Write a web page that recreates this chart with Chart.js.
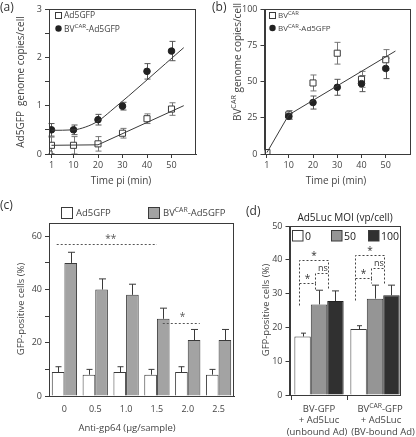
<!DOCTYPE html>
<html>
<head>
<meta charset="utf-8">
<script src="https://cdn.jsdelivr.net/npm/chart.js@4.4.1/dist/chart.umd.min.js"></script>
<style>
  html, body { margin: 0; padding: 0; background: #fff; }
  #wrap { position: relative; width: 416px; height: 437px; }
  #wrap canvas { position: absolute; left: 0; top: 0; }
</style>
</head>
<body>
<div id="wrap">
  <canvas id="chartA" width="416" height="437"></canvas>
  <canvas id="chartB" width="416" height="437"></canvas>
  <canvas id="chartC" width="416" height="437"></canvas>
  <canvas id="chartD" width="416" height="437"></canvas>
</div>
<script>
// --- dados do painel (a): cópias do genoma Ad5GFP por célula
const timeTicks = [1, 10, 20, 30, 40, 50];
const aTimeAd = [0, 1, 10, 20, 30, 40, 50];
const aAdGfp = [0, 0.18, 0.18, 0.21, 0.43, 0.73, 0.93];
const aAdGfpErr = [0, 0.17, 0.18, 0.15, 0.1, 0.1, 0.13];
const aTimeBv = [1, 10, 20, 30, 40, 50];
const aBvAd = [0.5, 0.5, 0.71, 0.99, 1.71, 2.13];
const aBvAdErr = [0.13, 0.1, 0.11, 0.08, 0.16, 0.2];
// linhas de ajuste
const aFitAdX = [1, 20, 55];
const aFitAdY = [0.18, 0.19, 1.0];
const aFitBvX = [1, 10, 15, 20, 25, 55];
const aFitBvY = [0.49, 0.5, 0.56, 0.68, 0.88, 2.2];

// --- painel (b): cópias do genoma BV-CAR por célula
const bTimeBv = [0, 1, 10, 20, 30, 40, 50];
const bBv = [0, 1, 27, 49, 69.5, 51.5, 65];
const bBvErr = [0, 0, 3, 5.5, 7.5, 5.5, 7];
const bTimeBvAd = [10, 20, 30, 40, 50];
const bBvAd = [26, 35.5, 46, 48.5, 59];
const bBvAdErr = [2, 4.5, 5.5, 5.5, 7];
const bFitX = [1, 10, 54];
const bFitY = [1, 27, 71];

// --- painel (c): células GFP-positivas vs anti-gp64
const cDoses = ['0', '0.5', '1.0', '1.5', '2.0', '2.5'];
const cAd = [9, 8, 9, 8, 9, 8];
const cAdErr = [2, 2, 2, 2, 2, 2];
const cBvAd = [50, 40, 38, 29, 21, 21];
const cBvAdErr = [4, 4, 4, 4, 4, 4];

// --- painel (d): MOI de Ad5Luc
const dMoiLabels = ['0', '50', '100'];
const dMoi0 = [17.3, 19.5];
const dMoi0Err = [1, 1];
const dMoi50 = [26.8, 28.5];
const dMoi50Err = [4.2, 4];
const dMoi100 = [27.8, 29.5];
const dMoi100Err = [3, 3];

const FONT = '"Open Sans", "Noto Sans", sans-serif';
const INK = '#3a3a3a';
const TXT = '#444';

Chart.defaults.font.family = FONT;
Chart.defaults.color = TXT;
Chart.defaults.animation = false;
Chart.defaults.responsive = false;
Chart.defaults.plugins.legend.display = false;
Chart.defaults.plugins.tooltip.enabled = false;

const tickFont = { size: 9 };
const axisGrid = { drawOnChartArea: false, drawTicks: true, tickLength: 4, color: INK, lineWidth: 1 };
const axisBorder = { display: true, color: INK, width: 1 };

// Texto com partes sobrescritas: parts = [[texto, sobrescrito?], ...]
function drawRich(ctx, parts, x, y, size, align) {
    const supSize = size * 0.72;
    let total = 0;
    parts.forEach(([t, sup]) => {
        ctx.font = `${sup ? supSize : size}px ${FONT}`;
        total += ctx.measureText(t).width;
    });
    let cx = align === 'center' ? x - total / 2 : (align === 'right' ? x - total : x);
    ctx.textAlign = 'left';
    ctx.textBaseline = 'alphabetic';
    const base = y + size * 0.36;
    parts.forEach(([t, sup]) => {
        ctx.font = `${sup ? supSize : size}px ${FONT}`;
        ctx.fillText(t, cx, sup ? base - size * 0.42 : base);
        cx += ctx.measureText(t).width;
    });
}

function drawRotated(ctx, parts, x, y, size) {
    ctx.save();
    ctx.translate(x, y);
    ctx.rotate(-Math.PI / 2);
    drawRich(ctx, parts, 0, 0, size, 'center');
    ctx.restore();
}

function drawFrame(chart) {
    const { ctx, chartArea: a } = chart;
    ctx.save();
    ctx.strokeStyle = INK;
    ctx.lineWidth = 1;
    ctx.strokeRect(Math.round(a.left) + 0.5, Math.round(a.top) + 0.5,
        Math.round(a.right - a.left) - 1, Math.round(a.bottom - a.top));
    ctx.restore();
}

// Barras de erro: simétricas para pontos, só para cima nas barras
const errorBarPlugin = {
    id: 'errorBars',
    beforeDatasetsDraw(chart) {
        const ctx = chart.ctx;
        const yScale = chart.scales.y;
        chart.data.datasets.forEach((ds, i) => {
            if (!ds.errorBars) return;
            const meta = chart.getDatasetMeta(i);
            const isBar = meta.type === 'bar';
            ctx.save();
            ctx.strokeStyle = ds.errorColor || '#555';
            ctx.lineWidth = 1;
            meta.data.forEach((el, j) => {
                const raw = ds.data[j];
                const v = typeof raw === 'object' ? raw.y : raw;
                const e = ds.errorBars[j];
                if (!e) return;
                const x = Math.round(el.x) + 0.5;
                const top = yScale.getPixelForValue(v + e);
                const bottom = isBar ? yScale.getPixelForValue(v) : yScale.getPixelForValue(v - e);
                const cap = ds.capWidth || 3;
                ctx.beginPath();
                ctx.moveTo(x, top);
                ctx.lineTo(x, bottom);
                ctx.moveTo(x - cap, top);
                ctx.lineTo(x + cap, top);
                if (!isBar) {
                    ctx.moveTo(x - cap, bottom);
                    ctx.lineTo(x + cap, bottom);
                }
                ctx.stroke();
            });
            ctx.restore();
        });
    }
};

function xy(xs, ys) {
    return xs.map((x, i) => ({ x, y: ys[i] }));
}

function lineSet(xs, ys, extra) {
    return Object.assign({ type: 'line', data: xy(xs, ys), borderColor: INK, borderWidth: 1,
        pointRadius: 0, fill: false }, extra || {});
}

function squareSet(xs, ys, errs) {
    return { type: 'scatter', data: xy(xs, ys), pointStyle: 'rect', pointRadius: 4.3,
        backgroundColor: '#fff', borderColor: INK, borderWidth: 1, errorBars: errs, errorColor: '#777' };
}

function circleSet(xs, ys, errs) {
    return { type: 'scatter', data: xy(xs, ys), pointStyle: 'circle', pointRadius: 3.3,
        backgroundColor: '#222', borderColor: '#222', borderWidth: 1, errorBars: errs, errorColor: '#555' };
}

function timeScales(yMax, yStep, yLabel, yWidth) {
    return {
        x: {
            type: 'linear', min: 0, max: 60,
            afterBuildTicks: s => { s.ticks = timeTicks.map(v => ({ value: v })); },
            afterFit: s => { s.height = 20; },
            grid: axisGrid, border: axisBorder,
            ticks: { font: tickFont, padding: 2, maxRotation: 0 }
        },
        y: {
            min: 0, max: yMax,
            afterFit: s => { s.width = yWidth; },
            grid: axisGrid, border: axisBorder,
            ticks: { font: tickFont, padding: 3, stepSize: yStep, callback: yLabel }
        }
    };
}

// ---------------- painel (a)
new Chart(document.getElementById('chartA'), {
    type: 'scatter',
    data: {
        datasets: [
            lineSet(aFitAdX, aFitAdY),
            lineSet(aFitBvX, aFitBvY, { cubicInterpolationMode: 'monotone' }),
            squareSet(aTimeAd, aAdGfp, aAdGfpErr),
            circleSet(aTimeBv, aBvAd, aBvAdErr)
        ]
    },
    options: {
        layout: { padding: { left: 29, right: 220, top: 9, bottom: 263 } },
        scales: timeScales(3, 0.5, v => Number.isInteger(v) ? v : '', 20)
    },
    plugins: [errorBarPlugin, {
        id: 'decorA',
        afterDraw(chart) {
            const ctx = chart.ctx;
            drawFrame(chart);
            ctx.save();
            ctx.fillStyle = '#333';
            drawRich(ctx, [['(a)']], 0, 7, 12, 'left');
            ctx.fillStyle = TXT;
            // legenda
            ctx.strokeStyle = INK;
            ctx.strokeRect(55.5, 12.5, 6, 6);
            drawRich(ctx, [['Ad5GFP']], 64, 15, 8.5, 'left');
            ctx.fillStyle = '#222';
            ctx.beginPath();
            ctx.arc(58.5, 28.5, 3.2, 0, Math.PI * 2);
            ctx.fill();
            ctx.fillStyle = TXT;
            drawRich(ctx, [['BV'], ['CAR', true], ['-Ad5GFP']], 64, 28.5, 8.5, 'left');
            drawRotated(ctx, [['Ad5GFP  genome copies/cell']], 20, 82, 10);
            drawRich(ctx, [['Time pi (min)']], 121, 180, 10, 'center');
            ctx.restore();
        }
    }]
});

// ---------------- painel (b)
new Chart(document.getElementById('chartB'), {
    type: 'scatter',
    data: {
        datasets: [
            lineSet(bFitX, bFitY),
            circleSet(bTimeBvAd, bBvAd, bBvAdErr),
            squareSet(bTimeBv, bBv, bBvErr)
        ]
    },
    options: {
        layout: { padding: { left: 240.5, right: 6, top: 9, bottom: 263 } },
        scales: timeScales(100, 25, v => v, 24)
    },
    plugins: [errorBarPlugin, {
        id: 'decorB',
        afterDraw(chart) {
            const ctx = chart.ctx;
            drawFrame(chart);
            ctx.save();
            ctx.fillStyle = '#333';
            drawRich(ctx, [['(b)']], 212, 7, 12, 'left');
            ctx.fillStyle = TXT;
            ctx.strokeStyle = INK;
            ctx.strokeRect(269.5, 12.5, 6, 6);
            drawRich(ctx, [['BV'], ['CAR', true]], 278, 15, 8, 'left');
            ctx.fillStyle = '#222';
            ctx.beginPath();
            ctx.arc(272.5, 28, 3.2, 0, Math.PI * 2);
            ctx.fill();
            ctx.fillStyle = TXT;
            drawRich(ctx, [['BV'], ['CAR', true], ['-Ad5GFP']], 278, 28, 8, 'left');
            drawRotated(ctx, [['BV'], ['CAR', true], [' genome copies/cell']], 237, 62, 10);
            drawRich(ctx, [['Time pi (min)']], 336, 180, 10, 'center');
            ctx.restore();
        }
    }]
});

// ---------------- painel (c)
new Chart(document.getElementById('chartC'), {
    type: 'bar',
    data: {
        labels: cDoses,
        datasets: [
            { data: cAd, backgroundColor: '#fff', borderColor: INK, borderWidth: 1,
              errorBars: cAdErr, errorColor: INK, capWidth: 3 },
            { data: cBvAd, backgroundColor: '#a3a3a3', borderColor: INK, borderWidth: 1,
              errorBars: cBvAdErr, errorColor: INK, capWidth: 3.5 }
        ]
    },
    options: {
        layout: { padding: { left: 29, right: 182, top: 223, bottom: 21 } },
        datasets: { bar: { categoryPercentage: 0.82, barPercentage: 1 } },
        scales: {
            x: {
                afterFit: s => { s.height = 20; },
                grid: { display: false }, border: axisBorder,
                ticks: { font: tickFont, padding: 0 }
            },
            y: {
                min: 0, max: 65,
                afterFit: s => { s.width = 20; },
                grid: axisGrid, border: axisBorder,
                ticks: { font: tickFont, padding: 3, stepSize: 10, includeBounds: false,
                         callback: v => v % 20 === 0 ? v : '' }
            }
        }
    },
    plugins: [errorBarPlugin, {
        id: 'decorC',
        afterDraw(chart) {
            const ctx = chart.ctx;
            const x = chart.scales.x, y = chart.scales.y;
            drawFrame(chart);
            ctx.save();
            ctx.fillStyle = '#333';
            drawRich(ctx, [['(c)']], 0, 205, 12, 'left');
            // legenda
            ctx.strokeStyle = INK;
            ctx.fillStyle = '#fff';
            ctx.fillRect(62, 207.5, 10, 10);
            ctx.strokeRect(61.5, 207.5, 11, 11);
            ctx.fillStyle = '#a3a3a3';
            ctx.fillRect(148.5, 207.5, 11, 11);
            ctx.strokeRect(148.5, 207.5, 11, 11);
            ctx.fillStyle = TXT;
            drawRich(ctx, [['Ad5GFP']], 76, 213, 9.5, 'left');
            drawRich(ctx, [['BV'], ['CAR', true], ['-Ad5GFP']], 163, 213, 9.5, 'left');
            drawRotated(ctx, [['GFP-positive cells (%)']], 21, 309, 9.5);
            drawRich(ctx, [['Anti-gp64 (\u03bcg/sample)']], 127, 428, 9.5, 'center');
            // linhas de significância
            ctx.setLineDash([2, 2]);
            ctx.strokeStyle = '#555';
            ctx.beginPath();
            const y1 = Math.round(y.getPixelForValue(57)) + 0.5;
            ctx.moveTo(x.getPixelForValue(-0.25), y1);
            ctx.lineTo(x.getPixelForValue(3), y1);
            const y2 = Math.round(y.getPixelForValue(27.3)) + 0.5;
            ctx.moveTo(x.getPixelForValue(3.19), y2);
            ctx.lineTo(x.getPixelForValue(4.39), y2);
            ctx.stroke();
            ctx.setLineDash([]);
            ctx.fillStyle = '#555';
            drawRich(ctx, [['**']], x.getPixelForValue(1.5), y.getPixelForValue(59.3), 10, 'center');
            drawRich(ctx, [['*']], x.getPixelForValue(3.83), y.getPixelForValue(30), 10, 'center');
            ctx.restore();
        }
    }]
});

// ---------------- painel (d)
const dGroupX = [0, 1];
new Chart(document.getElementById('chartD'), {
    type: 'bar',
    data: {
        datasets: [
            { data: xy(dGroupX, dMoi0), backgroundColor: '#fff', borderColor: INK, borderWidth: 1,
              errorBars: dMoi0Err, errorColor: INK, capWidth: 2.5 },
            { data: xy(dGroupX, dMoi50), backgroundColor: '#959595', borderColor: INK, borderWidth: 1,
              errorBars: dMoi50Err, errorColor: INK, capWidth: 3.5 },
            { data: xy(dGroupX, dMoi100), backgroundColor: '#303030', borderColor: '#222', borderWidth: 1,
              errorBars: dMoi100Err, errorColor: INK, capWidth: 3.5 }
        ]
    },
    options: {
        layout: { padding: { left: 269.5, right: 16, top: 226, bottom: 34 } },
        datasets: { bar: { categoryPercentage: 0.88, barPercentage: 1 } },
        scales: {
            x: {
                type: 'linear', min: -0.527, max: 1.446, offset: false,
                afterBuildTicks: s => { s.ticks = dGroupX.map(v => ({ value: v })); },
                afterFit: s => { s.height = 8; },
                grid: Object.assign({}, axisGrid, { tickLength: 5 }), border: axisBorder,
                ticks: { callback: () => '' }
            },
            y: {
                min: 0, max: 50,
                afterFit: s => { s.width = 20; },
                grid: axisGrid, border: axisBorder,
                ticks: { font: tickFont, padding: 3, stepSize: 10 }
            }
        }
    },
    plugins: [errorBarPlugin, {
        id: 'decorD',
        afterDraw(chart) {
            const ctx = chart.ctx;
            const y = chart.scales.y;
            drawFrame(chart);
            ctx.save();
            ctx.fillStyle = '#333';
            drawRich(ctx, [['(d)']], 246, 211, 12, 'left');
            ctx.fillStyle = '#222';
            drawRich(ctx, [['Ad5Luc MOI (vp/cell)']], 345, 217, 10, 'center');
            // legenda dentro da área
            const boxes = [[292.5, '#fff'], [331.5, '#959595'], [368.5, '#303030']];
            ctx.strokeStyle = INK;
            boxes.forEach(([bx, col], i) => {
                ctx.fillStyle = col;
                ctx.fillRect(bx, 230.5, 10.5, 10.5);
                ctx.strokeRect(bx, 230.5, 10.5, 10.5);
                ctx.fillStyle = '#222';
                drawRich(ctx, [[dMoiLabels[i]]], bx + 12.5, 236, 10.5, 'left');
            });
            ctx.fillStyle = TXT;
            drawRotated(ctx, [['GFP-positive cells (%)']], 266, 310, 9.5);
            // rótulos do eixo x
            drawRich(ctx, [['BV-GFP']], 319, 408.5, 9.5, 'center');
            drawRich(ctx, [['+ Ad5Luc']], 319, 420, 9.5, 'center');
            drawRich(ctx, [['(unbound Ad)']], 317, 431.5, 9.5, 'center');
            drawRich(ctx, [['BV'], ['CAR', true], ['-GFP']], 380, 408.5, 9.5, 'center');
            drawRich(ctx, [['+ Ad5Luc']], 381, 420, 9.5, 'center');
            drawRich(ctx, [['(BV-bound Ad)']], 383, 431.5, 9.5, 'center');
            // colchetes de significância
            const m0 = chart.getDatasetMeta(0).data;
            const m1 = chart.getDatasetMeta(1).data;
            const m2 = chart.getDatasetMeta(2).data;
            const lift = [0, 1.5];
            ctx.setLineDash([2, 2]);
            ctx.strokeStyle = '#444';
            ctx.fillStyle = '#333';
            [0, 1].forEach(g => {
                const xL = Math.round(m0[g].x - 4) + 0.5;
                const xM = Math.round(m1[g].x - 4.4) + 0.5;
                const xR = Math.round(m2[g].x - 7) + 0.5;
                const py = v => Math.round(y.getPixelForValue(v + lift[g])) + 0.5;
                ctx.beginPath();
                ctx.moveTo(xL, py(26.5)); ctx.lineTo(xL, py(39.8));
                ctx.lineTo(xR, py(39.8)); ctx.lineTo(xR, py(31.5));
                ctx.moveTo(xL, py(33)); ctx.lineTo(xM, py(33)); ctx.lineTo(xM, py(31.5));
                ctx.moveTo(xM, py(33)); ctx.lineTo(xM, py(36.2)); ctx.lineTo(xR, py(36.2));
                ctx.stroke();
                ctx.setLineDash([]);
                drawRich(ctx, [['*']], (xL + xR) / 2, py(41.3), 10, 'center');
                drawRich(ctx, [['*']], (xL + xM) / 2, py(34.6), 10, 'center');
                drawRich(ctx, [['ns']], (xM + xR) / 2 + 1, py(37.8), 9, 'center');
                ctx.setLineDash([2, 2]);
            });
            ctx.restore();
        }
    }]
});
</script>
</body>
</html>
